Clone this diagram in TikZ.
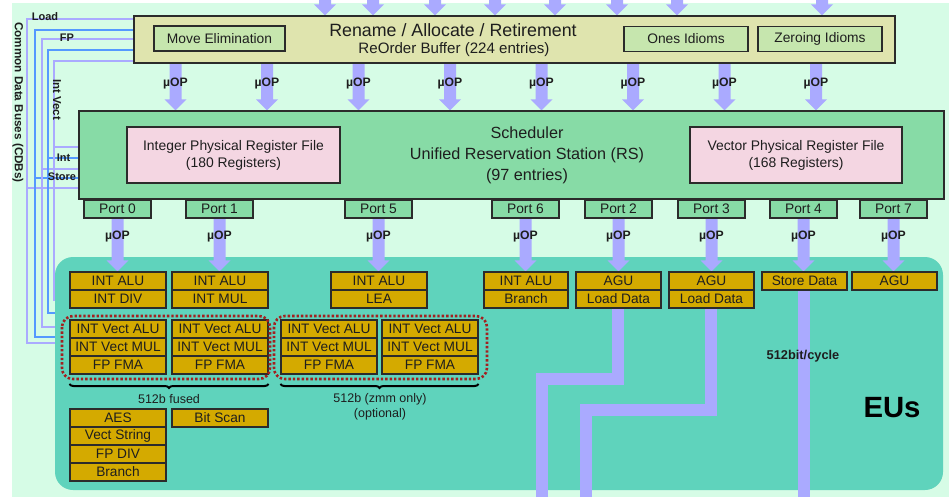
\documentclass[tikz,border=0pt]{standalone}
\usepackage{fontspec}
\setmainfont{Liberation Sans}
\usetikzlibrary{calc,decorations.pathreplacing}

\definecolor{bgmint}{HTML}{D6FCE6}
\definecolor{rob}{HTML}{DFE4AE}
\definecolor{idiom}{HTML}{C6E6AE}
\definecolor{sched}{HTML}{87DBA6}
\definecolor{prf}{HTML}{F4D6E2}
\definecolor{eu}{HTML}{5FD3BC}
\definecolor{gold}{HTML}{D4AA00}
\definecolor{lav}{HTML}{AAAAFF}
\definecolor{busblue}{HTML}{5599FF}
\definecolor{dotred}{HTML}{A32020}
\definecolor{edge}{HTML}{2B2B2B}
\definecolor{ink}{HTML}{1E1E1E}

\pgfdeclarelayer{backdrop}
\pgfdeclarelayer{buses}
\pgfdeclarelayer{eubg}
\pgfdeclarelayer{lanes}
\pgfsetlayers{backdrop,buses,eubg,lanes,main}

% wide downward arrow between two points (shaft 12pt, head 22pt x 11pt)
\newcommand\fatarrow[2]{%
  \fill[lav] let \p1=#1, \p2=#2 in
    (\x1-6pt,\y1) -- (\x1+6pt,\y1) -- (\x1+6pt,\y2+11pt) -- (\x1+11pt,\y2+11pt)
    -- (\x1,\y2) -- (\x1-11pt,\y2+11pt) -- (\x1-6pt,\y2+11pt) -- cycle;}

\tikzset{
  box/.style={draw=edge, line width=1.1pt, inner sep=0pt, text=ink},
  robbox/.style={box, fill=rob, minimum width=761pt, minimum height=47pt},
  idiombox/.style={box, fill=idiom, minimum height=25pt, font=\fontsize{13.8}{16}\selectfont},
  schbox/.style={box, fill=sched, minimum width=865pt, minimum height=88pt},
  prfbox/.style={box, fill=prf, minimum width=213pt, minimum height=56pt, align=center,
    font=\fontsize{13.9}{17}\selectfont},
  port/.style={box, fill=sched, minimum width=67pt, minimum height=18pt,
    font=\fontsize{13.8}{15}\selectfont},
  eubox/.style={box, fill=gold, minimum height=18pt, font=\fontsize{13.7}{15}\selectfont},
  wide/.style={eubox, minimum width=96pt},
  narrow/.style={eubox, minimum width=85pt},
  uop/.style={inner sep=0pt, text=ink, font=\bfseries\fontsize{12.2}{14}\selectfont},
  buslab/.style={inner sep=0pt, text=ink, font=\bfseries\fontsize{11}{12}\selectfont},
  note/.style={inner sep=0pt, text=ink, align=center, font=\fontsize{12.5}{15}\selectfont},
  buslav/.style={draw=lav, line width=2.6pt},
  busblu/.style={draw=busblue, line width=2.6pt},
  lane/.style={draw=lav, line width=12pt, line join=miter},
  dotbox/.style={draw=dotred, line width=2.6pt, dash pattern=on 2.4pt off 2pt, rounded corners=11pt},
  bracepath/.style={decorate, decoration={brace, amplitude=4pt, mirror}, line width=2pt, draw=black},
}

\begin{document}
\begin{tikzpicture}[x=1pt, y=-1pt]
\useasboundingbox (0,0) rectangle (949,497);

\begin{pgfonlayer}{backdrop}
  \fill[white] (0,0) rectangle (949,497);
  \fill[bgmint] (12,3) rectangle (949,497);
\end{pgfonlayer}

% ---------- Rename / Allocate / Retirement ----------
\node[robbox] (ren) at (514.5,39.5) {};
\node[idiombox, minimum width=131pt] (mve) at (219.5,38.5) {Move Elimination};
\node[idiombox, minimum width=124pt] (ones) at (686,39) {Ones Idioms};
\node[idiombox, minimum width=124pt] (zero) at (820,39) {Zeroing Idioms};
\node[inner sep=0pt, text=ink, font=\fontsize{17.8}{20}\selectfont] (rentitle) at (453,30.5) {Rename / Allocate / Retirement};
\node[inner sep=0pt, text=ink, font=\fontsize{15.1}{17}\selectfont] (rensub) at (454,49.5) {ReOrder Buffer (224 entries)};

% ---------- Scheduler ----------
\node[schbox] (sch) at (511.5,155) {};
\node[prfbox] (iprf) at (233.5,155) {Integer Physical Register File\\(180 Registers)};
\node[prfbox, minimum width=212pt] (vprf) at (796,155) {Vector Physical Register File\\(168 Registers)};
\node[inner sep=0pt, text=ink, align=center, font=\fontsize{16.2}{21}\selectfont] (schtext) at (527,155)
  {Scheduler\\Unified Reservation Station (RS)\\(97 entries)};

% ---------- Ports ----------
\node[port] (p0) at (117.5,209) {Port 0};
\node[port] (p1) at (219.5,209) {Port 1};
\node[port] (p5) at (378.5,209) {Port 5};
\node[port] (p6) at (525.5,209) {Port 6};
\node[port] (p2) at (618.5,209) {Port 2};
\node[port] (p3) at (711.5,209) {Port 3};
\node[port] (p4) at (803.5,209) {Port 4};
\node[port] (p7) at (893.5,209) {Port 7};

% ---------- Execution units ----------
\begin{pgfonlayer}{eubg}
  \node[fill=eu, rounded corners=18pt, minimum width=888pt, minimum height=233pt, inner sep=0pt]
    (eus) at (499,373.5) {};
\end{pgfonlayer}
\node[inner sep=0pt, text=black, font=\bfseries\fontsize{29.3}{32}\selectfont] (eulabel) at (892,408) {EUs};

\node[wide] (alu0) at (118,281) {INT ALU};
\node[wide] (div0) at (118,299) {INT DIV};
\node[wide] (alu1) at (220,281) {INT ALU};
\node[wide] (mul1) at (220,299) {INT MUL};
\node[wide] (alu5) at (379,281) {INT ALU};
\node[wide] (lea5) at (379,299) {LEA};
\node[eubox, minimum width=84pt] (alu6) at (526,281) {INT ALU};
\node[eubox, minimum width=84pt] (br6) at (526,299) {Branch};
\node[narrow] (agu2) at (618.5,281) {AGU};
\node[narrow] (ld2) at (618.5,299) {Load Data};
\node[narrow] (agu3) at (711.5,281) {AGU};
\node[narrow] (ld3) at (711.5,299) {Load Data};
\node[narrow] (sd) at (804.5,281) {Store Data};
\node[narrow] (agu7) at (894.5,281) {AGU};

\node[wide] (va0) at (118,329) {INT Vect ALU};
\node[wide] (vm0) at (118,347) {INT Vect MUL};
\node[wide] (vf0) at (118,365) {FP FMA};
\node[wide] (va1) at (220,329) {INT Vect ALU};
\node[wide] (vm1) at (220,347) {INT Vect MUL};
\node[wide] (vf1) at (220,365) {FP FMA};
\node[wide] (va5a) at (329,329) {INT Vect ALU};
\node[wide] (vm5a) at (329,347) {INT Vect MUL};
\node[wide] (vf5a) at (329,365) {FP FMA};
\node[wide] (va5b) at (430,329) {INT Vect ALU};
\node[wide] (vm5b) at (430,347) {INT Vect MUL};
\node[wide] (vf5b) at (430,365) {FP FMA};

\node[wide] (aes) at (118,418) {AES};
\node[wide] (vstr) at (118,436) {Vect String};
\node[wide] (fpdiv) at (118,454) {FP DIV};
\node[wide] (br0) at (118,472) {Branch};
\node[wide] (bscan) at (220,418) {Bit Scan};

% fused 512-bit groups
\coordinate (braceline) at (0,384);
\draw[dotbox] (62,316) rectangle (270,379);
\draw[dotbox] (274,316) rectangle (487,379);
\draw[bracepath] (va0.west |- braceline) -- (va1.east |- braceline);
\draw[bracepath] (va5a.west |- braceline) -- (va5b.east |- braceline);
\node[note] (fusednote) at (169,399) {512b fused};
\node[note, font=\fontsize{12.5}{14.5}\selectfont] (zmmnote) at (380,407) {512b (zmm only)\\(optional)};

% ---------- uOP arrows ----------
\foreach \k/\x in {t1/325,t2/373,t3/435,t4/495,t5/555,t6/617,t7/677,t8/822}
  \coordinate (\k) at (\x,-10);
\foreach \k/\x in {a1/175.5,a2/267,a3/358.5,a4/450,a5/541.5,a6/633,a7/724.5,a8/816}
  \coordinate (\k) at (\x,0);
\coordinate (uoprowA) at (0,84);
\coordinate (uoprowB) at (0,237);

\begin{pgfonlayer}{lanes}
  \foreach \k in {t1,t2,t3,t4,t5,t6,t7,t8}
    {\fatarrow{(\k)}{(ren.north -| \k)}}
  \foreach \k in {a1,a2,a3,a4,a5,a6,a7,a8}
    {\fatarrow{(ren.south -| \k)}{(sch.north -| \k)}}
  \fatarrow{(p0.south)}{(p0.south |- alu0.north)}
  \fatarrow{(p1.south)}{(p1.south |- alu1.north)}
  \fatarrow{(p5.south)}{(p5.south |- alu5.north)}
  \fatarrow{(p6.south)}{(p6.south |- alu6.north)}
  \fatarrow{(p2.south)}{(p2.south |- agu2.north)}
  \fatarrow{(p3.south)}{(p3.south |- agu3.north)}
  \fatarrow{(p4.south)}{(p4.south |- sd.north)}
  \fatarrow{(p7.south)}{(p7.south |- agu7.north)}

  % load / store data paths
  \coordinate (lane2turn) at (542,378.5);
  \coordinate (lane2end) at (542,510);
  \coordinate (lane3turn) at (586,409.5);
  \coordinate (lane3end) at (586,510);
  \draw[lane] ($(ld2.south)+(-1,0)$) |- (lane2turn) -- (lane2end);
  \draw[lane] ($(ld3.south)+(-0.5,0)$) |- (lane3turn) -- (lane3end);
  \draw[lane] ($(sd.south)+(-1,0)$) -- ($(sd.south |- lane3end)+(-1,0)$);
\end{pgfonlayer}

\foreach \k in {a1,a2,a3,a4,a5,a6,a7,a8}
  {\node[uop] at (\k |- uoprowA) {µOP};}
\foreach \k in {p0,p1,p5,p6,p2,p3,p4,p7}
  {\node[uop] at (\k |- uoprowB) {µOP};}
\node[uop, font=\bfseries\fontsize{12.8}{14}\selectfont] (bw) at (803,356) {512bit/cycle};

% ---------- Common data buses ----------
\coordinate (l1top) at (27,19);  \coordinate (l1mid) at (27,188); \coordinate (l1bot) at (27,343); \coordinate (l1end) at (80,343);
\coordinate (b1top) at (35,30);  \coordinate (b1mid) at (35,178); \coordinate (b1bot) at (35,337); \coordinate (b1end) at (80,337);
\coordinate (l2top) at (42,39);  \coordinate (l2mid) at (42,169); \coordinate (l2bot) at (42,327); \coordinate (l2end) at (80,327);
\coordinate (b2top) at (48,50);  \coordinate (b2mid) at (48,158); \coordinate (b2bot) at (48,313); \coordinate (b2end) at (80,313);
\coordinate (l3top) at (54,61);  \coordinate (l3mid) at (54,147); \coordinate (l3bot) at (54,300); \coordinate (l3end) at (80,300);

\begin{pgfonlayer}{buses}
  \draw[buslav] (l1mid) -- (sch.west |- l1mid);
  \draw[busblu] (b1mid) -- (sch.west |- b1mid);
  \draw[buslav] (l2mid) -- (sch.west |- l2mid);
  \draw[busblu] (b2mid) -- (sch.west |- b2mid);
  \draw[buslav] (l3mid) -- (sch.west |- l3mid);
  \draw[buslav] (ren.west |- l1top) -- (l1top) -- (l1bot) -- (l1end);
  \draw[busblu] (ren.west |- b1top) -- (b1top) -- (b1bot) -- (b1end);
  \draw[buslav] (ren.west |- l2top) -- (l2top) -- (l2bot) -- (l2end);
  \draw[busblu] (ren.west |- b2top) -- (b2top) -- (b2bot) -- (b2end);
  \draw[buslav] (ren.west |- l3top) -- (l3top) -- (l3bot) -- (l3end);
\end{pgfonlayer}

\node[buslab] (loadlab) at (45,16.5) {Load};
\node[buslab] (fplab) at (67,38) {FP};
\node[buslab, rotate=-90, font=\bfseries\fontsize{11.5}{12}\selectfont] (ivlab) at (57,99.5) {Int Vect};
\node[buslab] (intlab) at (63.5,157.5) {Int};
\node[buslab] (storelab) at (62,177) {Store};
\node[buslab, rotate=-90, font=\bfseries\fontsize{11.7}{13}\selectfont] (cdblab) at (18,102.5) {Common Data Buses (CDBs)};

\end{tikzpicture}
\end{document}
